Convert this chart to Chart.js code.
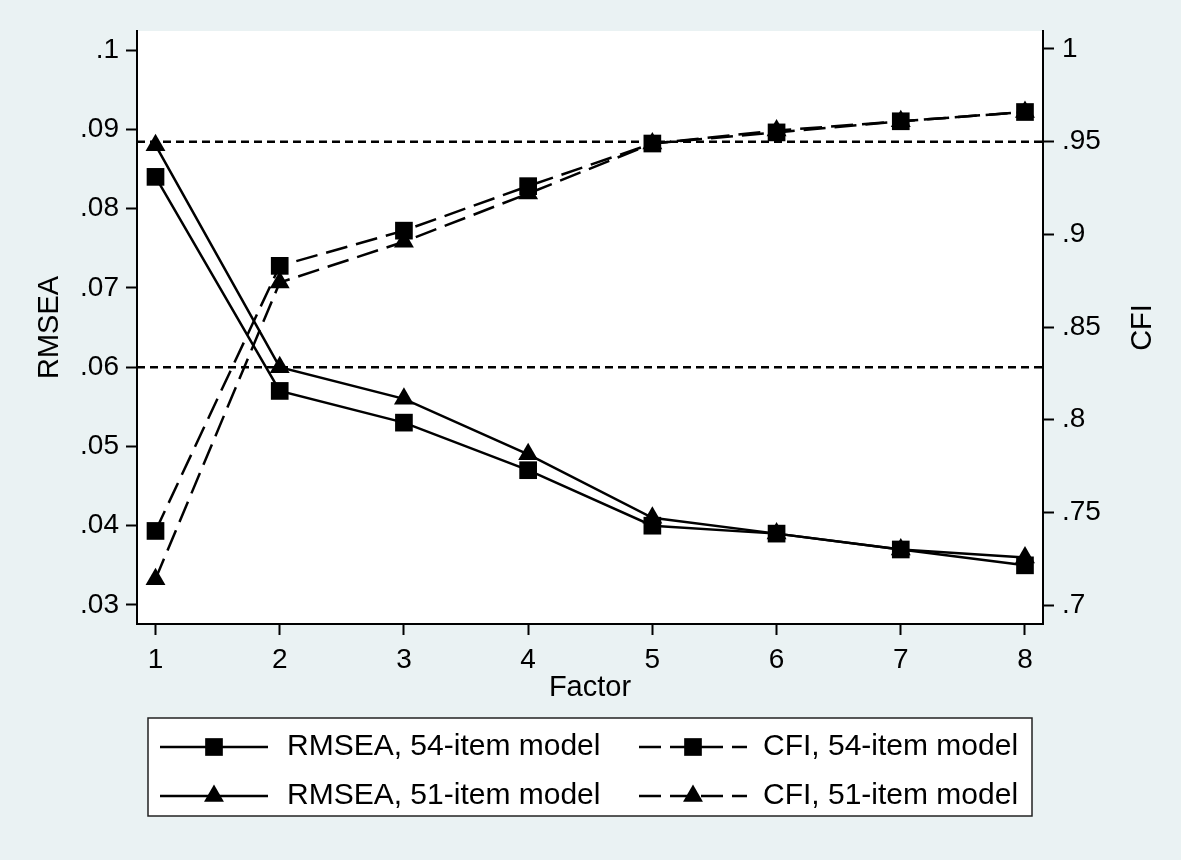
<!DOCTYPE html>
<html>
<head>
<meta charset="utf-8">
<title>RMSEA and CFI by number of factors</title>
<script src="https://cdn.jsdelivr.net/npm/chart.js"></script>
<style>
  html, body { margin: 0; padding: 0; background: #eaf2f3; overflow: hidden; }
  #wrap { width: 1181px; height: 860px; position: relative; }
</style>
</head>
<body>
<div id="wrap"><canvas id="fitChart"></canvas></div>
<script>
// ── DATA ─────────────────────────────────────────────
const factors = [1, 2, 3, 4, 5, 6, 7, 8];

const rmsea54 = [0.084, 0.057, 0.053, 0.047, 0.040, 0.039, 0.037, 0.035];
const rmsea51 = [0.088, 0.060, 0.056, 0.049, 0.041, 0.039, 0.037, 0.036];
const cfi54   = [0.740, 0.883, 0.902, 0.926, 0.949, 0.955, 0.961, 0.966];
const cfi51   = [0.714, 0.874, 0.896, 0.922, 0.949, 0.956, 0.961, 0.966];

const seriesLabels = [
  'RMSEA, 54-item model', 'RMSEA, 51-item model',
  'CFI, 54-item model',   'CFI, 51-item model'
];

const rmseaTicks = [0.03, 0.04, 0.05, 0.06, 0.07, 0.08, 0.09, 0.1];
const cfiTicks   = [0.7, 0.75, 0.8, 0.85, 0.9, 0.95, 1];

// cut-off reference lines
const rmseaCutoff = 0.06;
const cfiCutoff   = 0.95;

// ── HELPERS ──────────────────────────────────────────
const FONT = "'Liberation Sans', Arial, Helvetica, sans-serif";
const INK = '#000000';

const toPoints = (vals) => vals.map((v, i) => ({ x: factors[i], y: v }));

// Stata-style labels: .09 instead of 0.09
const stataLabel = (v) => {
  let s = String(parseFloat(v.toFixed(3)));
  return s.startsWith('0.') ? s.slice(1) : s;
};

const X_MIN = 0.851, X_MAX = 8.145;

const seriesStyle = (dash, style, radius) => ({
  borderColor: INK,
  backgroundColor: INK,
  borderWidth: 2.5,
  borderDash: dash,
  pointStyle: style,
  pointRadius: radius,
  pointBorderWidth: 0,
  pointBackgroundColor: INK,
  pointHoverRadius: radius,
  tension: 0,
  fill: false
});

const refLineStyle = {
  borderColor: INK,
  borderWidth: 2.5,
  borderDash: [8, 5],
  pointRadius: 0,
  pointHoverRadius: 0,
  fill: false
};

// ── PLUGINS ──────────────────────────────────────────
// grey page + white plot region
const backgroundPlugin = {
  id: 'stataBackground',
  beforeDraw(chart) {
    const { ctx, chartArea: a } = chart;
    ctx.save();
    ctx.fillStyle = '#eaf2f3';
    ctx.fillRect(0, 0, chart.width, chart.height);
    ctx.fillStyle = '#ffffff';
    ctx.fillRect(a.left, a.top, a.right - a.left, a.bottom - a.top);
    ctx.restore();
  }
};

// axis titles (both vertical titles read bottom-to-top)
const titlePlugin = {
  id: 'axisTitles',
  afterDraw(chart) {
    const { ctx, chartArea: a } = chart;
    const midY = (a.top + a.bottom) / 2;
    const put = (text, x, y, rot) => {
      ctx.save();
      ctx.fillStyle = INK;
      ctx.font = `29px ${FONT}`;
      ctx.textAlign = 'center';
      ctx.textBaseline = 'middle';
      ctx.translate(x, y);
      if (rot) ctx.rotate(rot);
      ctx.fillText(text, 0, 0);
      ctx.restore();
    };
    put('Factor', (a.left + a.right) / 2, 688, 0);
    put('RMSEA', 50, midY, -Math.PI / 2);
    put('CFI', 1143, midY, -Math.PI / 2);
  }
};

// boxed legend below the plot, line sample with marker in the middle
const legendPlugin = {
  id: 'stataLegend',
  afterDraw(chart) {
    const { ctx } = chart;
    const box = { x: 148, y: 718, w: 884, h: 98 };
    ctx.save();
    ctx.fillStyle = '#ffffff';
    ctx.fillRect(box.x, box.y, box.w, box.h);
    ctx.strokeStyle = '#222';
    ctx.lineWidth = 1.5;
    ctx.strokeRect(box.x, box.y, box.w, box.h);

    const cols = [{ x0: 160, x1: 268, tx: 287 }, { x0: 639, x1: 747, tx: 763 }];
    const rows = [747, 796];

    chart.data.datasets.slice(0, 4).forEach((ds, i) => {
      const c = cols[Math.floor(i / 2)];
      const y = rows[i % 2];
      const mx = (c.x0 + c.x1) / 2;

      ctx.strokeStyle = INK;
      ctx.lineWidth = 2.5;
      ctx.setLineDash(ds.borderDash || []);
      ctx.beginPath();
      ctx.moveTo(c.x0, y);
      ctx.lineTo(c.x1, y);
      ctx.stroke();
      ctx.setLineDash([]);

      ctx.fillStyle = INK;
      ctx.beginPath();
      if (ds.pointStyle === 'rect') {
        const h = ds.pointRadius * Math.SQRT1_2;
        ctx.rect(mx - h, y - h, 2 * h, 2 * h);
      } else {
        const r = ds.pointRadius;
        ctx.moveTo(mx, y - r);
        ctx.lineTo(mx + r * Math.sin(Math.PI / 3), y + r / 2);
        ctx.lineTo(mx - r * Math.sin(Math.PI / 3), y + r / 2);
        ctx.closePath();
      }
      ctx.fill();

      ctx.font = `30px ${FONT}`;
      ctx.textAlign = 'left';
      ctx.textBaseline = 'middle';
      ctx.fillText(ds.label, c.tx, y);
    });
    ctx.restore();
  }
};

// ── CHART ────────────────────────────────────────────
const axisGrid = {
  display: true,
  drawOnChartArea: false,
  drawTicks: true,
  tickLength: 11,
  tickWidth: 2,
  tickColor: INK
};
const axisBorder = { display: true, color: INK, width: 2 };
const tickFont = { family: FONT, size: 28 };

new Chart(document.getElementById('fitChart'), {
  type: 'line',
  data: {
    datasets: [
      { label: seriesLabels[0], data: toPoints(rmsea54), yAxisID: 'y',  ...seriesStyle([], 'rect', 12.5) },
      { label: seriesLabels[1], data: toPoints(rmsea51), yAxisID: 'y',  ...seriesStyle([], 'triangle', 11.5) },
      { label: seriesLabels[2], data: toPoints(cfi54),   yAxisID: 'y1', ...seriesStyle([22, 9], 'rect', 12.5) },
      { label: seriesLabels[3], data: toPoints(cfi51),   yAxisID: 'y1', ...seriesStyle([22, 9], 'triangle', 11.5) },
      { label: 'RMSEA cut-off', data: [{ x: X_MIN, y: rmseaCutoff }, { x: X_MAX, y: rmseaCutoff }], yAxisID: 'y', ...refLineStyle },
      { label: 'CFI cut-off',   data: [{ x: X_MIN, y: cfiCutoff },   { x: X_MAX, y: cfiCutoff }],   yAxisID: 'y1', ...refLineStyle }
    ]
  },
  options: {
    responsive: true,
    maintainAspectRatio: false,
    animation: false,
    layout: { padding: { top: 31, left: 0, right: 0, bottom: 0 } },
    plugins: {
      legend: { display: false },
      tooltip: { enabled: false }
    },
    scales: {
      x: {
        type: 'linear',
        position: 'bottom',
        min: X_MIN,
        max: X_MAX,
        afterBuildTicks: (s) => { s.ticks = factors.map(v => ({ value: v })); },
        afterFit: (s) => { s.height = 236; },
        grid: axisGrid,
        border: axisBorder,
        ticks: { font: tickFont, color: INK, padding: 8, maxRotation: 0, callback: (v) => String(v) }
      },
      y: {
        type: 'linear',
        position: 'left',
        min: 0.0276,
        max: 0.1024,
        afterBuildTicks: (s) => { s.ticks = rmseaTicks.map(v => ({ value: v })); },
        afterFit: (s) => { s.width = 137; },
        grid: axisGrid,
        border: axisBorder,
        ticks: { font: tickFont, color: INK, padding: 7, callback: (v) => stataLabel(v) }
      },
      y1: {
        type: 'linear',
        position: 'right',
        min: 0.6898,
        max: 1.0097,
        afterBuildTicks: (s) => { s.ticks = cfiTicks.map(v => ({ value: v })); },
        afterFit: (s) => { s.width = 138; },
        grid: axisGrid,
        border: axisBorder,
        ticks: { font: tickFont, color: INK, padding: 8, callback: (v) => stataLabel(v) }
      }
    }
  },
  plugins: [backgroundPlugin, titlePlugin, legendPlugin]
});
</script>
</body>
</html>
